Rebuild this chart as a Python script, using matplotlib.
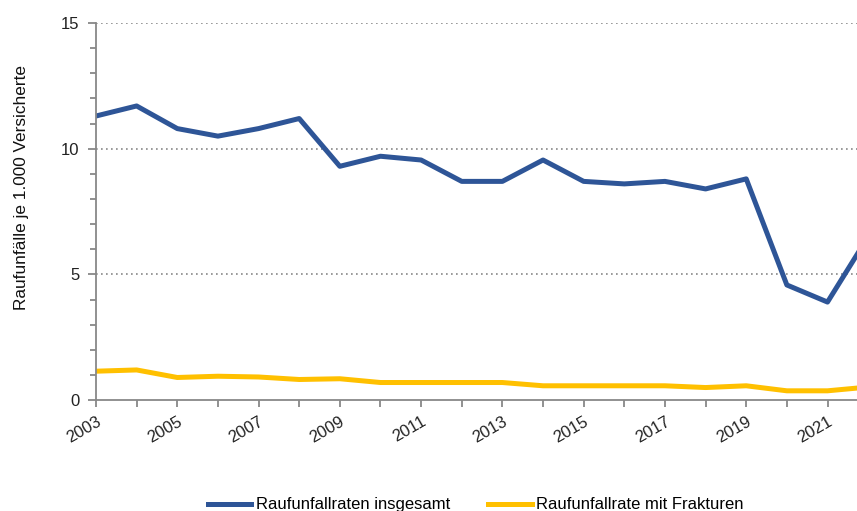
import matplotlib.pyplot as plt
from matplotlib.ticker import MultipleLocator

plt.rcParams['font.family'] = ['Liberation Sans', 'DejaVu Sans']

years = list(range(2003, 2023))
insgesamt = [11.3, 11.7, 10.8, 10.5, 10.8, 11.2, 9.3, 9.7, 9.55, 8.7,
             8.7, 9.55, 8.7, 8.6, 8.7, 8.4, 8.8, 4.58, 3.9, 6.5]
frakturen = [1.15, 1.2, 0.9, 0.95, 0.92, 0.82, 0.85, 0.7, 0.7, 0.7,
             0.7, 0.57, 0.57, 0.57, 0.57, 0.5, 0.57, 0.37, 0.37, 0.52]
series_labels = ['Raufunfallraten insgesamt', 'Raufunfallrate mit Frakturen']
ylabel = 'Raufunfälle je 1.000 Versicherte'

blue = '#2E5597'
yellow = '#FFC000'
grey = '#888888'
fs = 12

fig = plt.figure(figsize=(8.57, 5.11), dpi=100)
ax = fig.add_axes([0.112, 0.217, 0.901, 0.738])

ax.plot(years, insgesamt, color=blue, lw=3.6, label=series_labels[0])
ax.plot(years, frakturen, color=yellow, lw=3.6, label=series_labels[1])

ax.set_xlim(2003, 2022)
ax.set_ylim(0, 15)
ax.yaxis.set_major_locator(MultipleLocator(5))
ax.yaxis.set_minor_locator(MultipleLocator(1))
ax.set_xticks(years)
ax.set_xticklabels([str(y) if y % 2 == 1 else '' for y in years],
                   rotation=30, ha='right', rotation_mode='anchor')

for v in (5, 10, 15):
    ax.axhline(v, color=grey, lw=1.2, ls=(0, (1, 2)), zorder=0)

for s in ('top', 'right'):
    ax.spines[s].set_visible(False)
for s in ('left', 'bottom'):
    ax.spines[s].set_color(grey)
    ax.spines[s].set_linewidth(1.3)

ax.tick_params(axis='both', which='both', color=grey, width=1.3, labelsize=fs,
               labelcolor='#222222')
ax.tick_params(axis='y', which='major', length=6, pad=6)
ax.tick_params(axis='y', which='minor', length=4)
ax.tick_params(axis='x', length=5, pad=5)

fig.text(22 / 857, 1 - 187 / 511, ylabel, rotation=90, ha='center', va='center',
         fontsize=12.4, color='#111111')

fig.legend(loc='lower center', bbox_to_anchor=(0.555, -0.032), ncol=2,
           frameon=False, fontsize=fs, handlelength=2.6, handletextpad=0.25,
           columnspacing=2.3)

fig.savefig('out.png', dpi=100)
